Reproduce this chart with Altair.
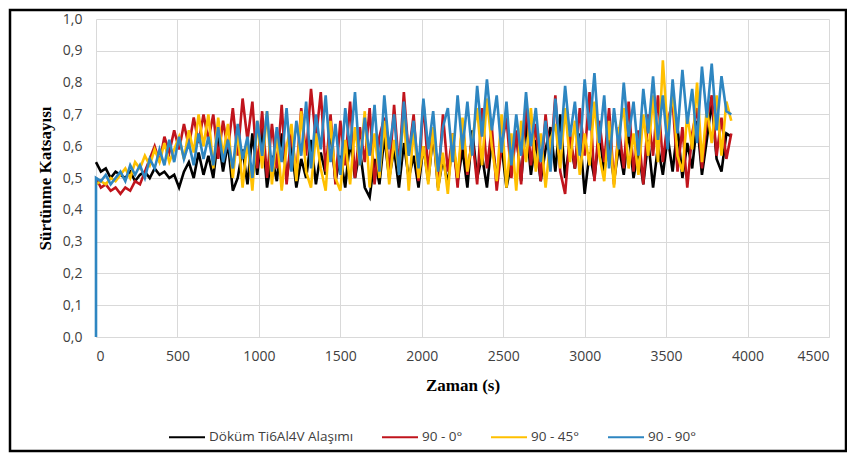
import altair as alt
import pandas as pd

TIME = list(range(0, 3901, 30))

NAMES = ["Döküm Ti6Al4V Alaşımı", "90 - 0°", "90 - 45°", "90 - 90°"]
COLORS = ["#000000", "#C0141C", "#FFC000", "#2E86C1"]

BLACK = [0.55, 0.52, 0.53, 0.50, 0.52, 0.51, 0.50, 0.52, 0.49, 0.51,
         0.52, 0.50, 0.53, 0.51, 0.52, 0.50, 0.51, 0.47, 0.52, 0.55,
         0.50, 0.58, 0.51, 0.57, 0.50, 0.63, 0.52, 0.61, 0.46, 0.50,
         0.59, 0.48, 0.64, 0.51, 0.66, 0.47, 0.57, 0.49, 0.64, 0.50,
         0.60, 0.47, 0.56, 0.50, 0.62, 0.48, 0.58, 0.51, 0.65, 0.49,
         0.57, 0.47, 0.62, 0.50, 0.59, 0.47, 0.44, 0.56, 0.48, 0.63,
         0.50, 0.59, 0.47, 0.61, 0.50, 0.57, 0.47, 0.60, 0.49, 0.64,
         0.47, 0.56, 0.48, 0.62, 0.49, 0.59, 0.47, 0.65, 0.50, 0.57,
         0.47, 0.62, 0.50, 0.60, 0.47, 0.55, 0.64, 0.49, 0.68, 0.51,
         0.62, 0.49, 0.59, 0.66, 0.52, 0.70, 0.50, 0.62, 0.53, 0.64,
         0.45, 0.58, 0.50, 0.64, 0.52, 0.62, 0.49, 0.60, 0.51, 0.65,
         0.50, 0.59, 0.48, 0.62, 0.47, 0.60, 0.51, 0.63, 0.52, 0.66,
         0.50, 0.61, 0.53, 0.68, 0.51, 0.62, 0.74, 0.56, 0.52, 0.64,
         0.63]

RED = [0.50, 0.47, 0.48, 0.46, 0.47, 0.45, 0.47, 0.46, 0.49, 0.48,
       0.52, 0.56, 0.60, 0.55, 0.63, 0.58, 0.65, 0.59, 0.67, 0.60,
       0.69, 0.61, 0.70, 0.62, 0.70, 0.56, 0.68, 0.59, 0.72, 0.57,
       0.75, 0.62, 0.74, 0.53, 0.71, 0.50, 0.67, 0.53, 0.73, 0.48,
       0.64, 0.51, 0.72, 0.57, 0.78, 0.62, 0.77, 0.52, 0.70, 0.48,
       0.68, 0.54, 0.74, 0.50, 0.66, 0.55, 0.72, 0.48, 0.63, 0.69,
       0.51, 0.73, 0.53, 0.77, 0.57, 0.70, 0.49, 0.74, 0.52, 0.66,
       0.48, 0.70, 0.52, 0.64, 0.47, 0.68, 0.51, 0.63, 0.48, 0.72,
       0.53, 0.66, 0.46, 0.60, 0.69, 0.50, 0.65, 0.48, 0.74, 0.54,
       0.67, 0.49, 0.70, 0.55, 0.76, 0.52, 0.45, 0.64, 0.53, 0.72,
       0.57, 0.77, 0.49, 0.68, 0.55, 0.72, 0.48, 0.66, 0.53, 0.74,
       0.52, 0.65, 0.48, 0.70, 0.57, 0.76, 0.55, 0.68, 0.74, 0.52,
       0.66, 0.47, 0.64, 0.72, 0.53, 0.68, 0.76, 0.57, 0.69, 0.56,
       0.64]

YELLOW = [0.48, 0.49, 0.48, 0.50, 0.49, 0.51, 0.53, 0.50, 0.55, 0.53,
          0.57, 0.54, 0.59, 0.55, 0.61, 0.55, 0.59, 0.63, 0.56, 0.65,
          0.58, 0.70, 0.60, 0.70, 0.53, 0.69, 0.57, 0.67, 0.50, 0.65,
          0.47, 0.62, 0.46, 0.68, 0.53, 0.71, 0.48, 0.64, 0.46, 0.60,
          0.67, 0.49, 0.71, 0.52, 0.47, 0.64, 0.53, 0.46, 0.68, 0.50,
          0.46, 0.62, 0.48, 0.66, 0.54, 0.71, 0.47, 0.64, 0.50, 0.68,
          0.48, 0.62, 0.52, 0.70, 0.46, 0.65, 0.50, 0.60, 0.48, 0.66,
          0.46, 0.58, 0.45, 0.64, 0.50, 0.69, 0.52, 0.62, 0.72, 0.54,
          0.75, 0.60, 0.49, 0.70, 0.47, 0.64, 0.46, 0.68, 0.55, 0.72,
          0.52, 0.64, 0.47, 0.62, 0.67, 0.53, 0.72, 0.55, 0.68, 0.51,
          0.64, 0.54, 0.74, 0.57, 0.49, 0.68, 0.47, 0.65, 0.72, 0.53,
          0.64, 0.51, 0.70, 0.57, 0.76, 0.55, 0.87, 0.64, 0.77, 0.57,
          0.52, 0.70, 0.59, 0.80, 0.55, 0.72, 0.61, 0.76, 0.57, 0.74,
          0.68]

BLUE_START_TIME = [0]
BLUE_START = [0.0]
BLUE = [0.50, 0.49, 0.51, 0.48, 0.50, 0.52, 0.49, 0.54, 0.51, 0.54,
        0.50, 0.56, 0.53, 0.59, 0.54, 0.62, 0.55, 0.63, 0.56, 0.61,
        0.54, 0.64, 0.56, 0.63, 0.54, 0.66, 0.55, 0.62, 0.53, 0.67,
        0.56, 0.63, 0.50, 0.68, 0.57, 0.71, 0.52, 0.66, 0.55, 0.72,
        0.52, 0.68, 0.57, 0.74, 0.53, 0.70, 0.59, 0.76, 0.55, 0.67,
        0.51, 0.72, 0.59, 0.77, 0.54, 0.69, 0.57, 0.73, 0.52, 0.76,
        0.59, 0.70, 0.51, 0.74, 0.57, 0.68, 0.53, 0.75, 0.59, 0.71,
        0.52, 0.66, 0.72, 0.55, 0.76, 0.59, 0.74, 0.57, 0.79, 0.63,
        0.81, 0.65, 0.76, 0.58, 0.74, 0.54, 0.70, 0.57, 0.77, 0.60,
        0.72, 0.55, 0.68, 0.52, 0.75, 0.59, 0.79, 0.63, 0.74, 0.57,
        0.81, 0.65, 0.83, 0.61, 0.76, 0.53, 0.72, 0.59, 0.80, 0.63,
        0.74, 0.57, 0.78, 0.64, 0.82, 0.62, 0.76, 0.59, 0.81, 0.64,
        0.84, 0.67, 0.78, 0.61, 0.85, 0.69, 0.86, 0.65, 0.82, 0.71,
        0.70]

rows = []
series = [
    (NAMES[0], TIME, BLACK),
    (NAMES[1], TIME, RED),
    (NAMES[2], TIME, YELLOW),
    (NAMES[3], BLUE_START_TIME + TIME, BLUE_START + BLUE),
]
for name, ts, vs in series:
    for i, (t, v) in enumerate(zip(ts, vs)):
        rows.append({"s": name, "t": t, "v": v, "idx": i})
df = pd.DataFrame(rows)

label_font = "Open Sans"
title_font = "Liberation Serif"

lines = alt.Chart(df).mark_line(strokeWidth=2.6).encode(
    x=alt.X("t:Q",
            scale=alt.Scale(domain=[0, 4500], nice=False),
            axis=alt.Axis(values=list(range(0, 4501, 500)), format="d",
                          title="Zaman (s)", ticks=False,
                          grid=True, gridColor="#D9D9D9",
                          domainColor="#D9D9D9", labelPadding=12,
                          labelFont=label_font, labelFontSize=14,
                          labelColor="#404040",
                          titleFont=title_font, titleFontSize=17,
                          titleFontWeight="bold", titleColor="#000000",
                          titlePadding=14)),
    y=alt.Y("v:Q",
            scale=alt.Scale(domain=[0, 1], nice=False),
            axis=alt.Axis(values=[i / 10 for i in range(11)],
                          labelExpr="replace(format(datum.value, '.1f'), '.', ',')",
                          title="Sürtünme Katsayısı", ticks=False,
                          domain=False, grid=True, gridColor="#D9D9D9",
                          labelPadding=14,
                          labelFont=label_font, labelFontSize=14,
                          labelColor="#404040",
                          titleFont=title_font, titleFontSize=17,
                          titleFontWeight="bold", titleColor="#000000",
                          titlePadding=8)),
    color=alt.Color("s:N",
                    scale=alt.Scale(domain=NAMES, range=COLORS),
                    legend=alt.Legend(title=None, orient="none",
                                      direction="horizontal",
                                      legendX=72, legendY=399,
                                      symbolType="stroke", symbolSize=1296,
                                      symbolStrokeWidth=2,
                                      labelFont=label_font, labelFontSize=13.5,
                                      labelColor="#404040", labelOffset=3,
                                      columnPadding=24)),
    order=alt.Order("idx:Q"),
)

frame = alt.Chart(pd.DataFrame({"a": [0]})).mark_rect(
    filled=False, stroke="black", strokeWidth=2.5
).encode(
    x=alt.value(-86), x2=alt.value(750),
    y=alt.value(-9), y2=alt.value(432),
)

chart = alt.layer(lines, frame).properties(
    width=733, height=318,
    padding={"left": 88, "top": 11, "right": 18, "bottom": 116},
    autosize="none",
).configure_view(stroke=None)

chart.save("out.html", embed_options={"renderer": "svg", "actions": False})
